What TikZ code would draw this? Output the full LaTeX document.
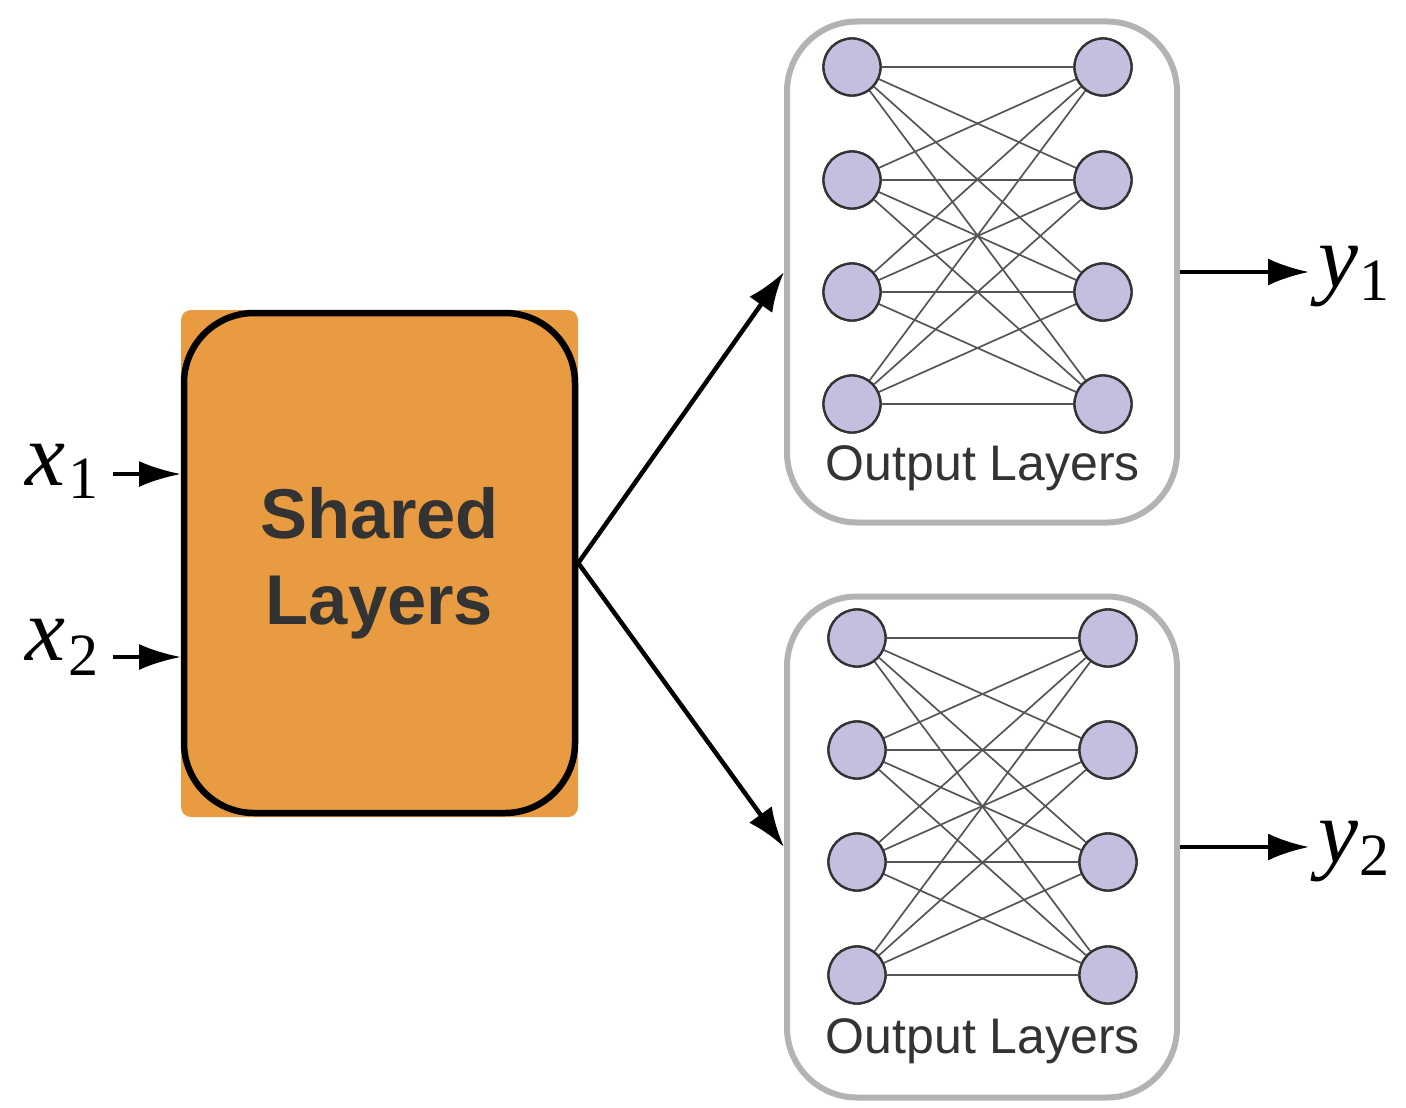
\documentclass[tikz,border=0pt]{standalone}
\usepackage{fontspec}
\setmainfont{Liberation Serif}
\setsansfont{Liberation Sans}
\usetikzlibrary{arrows.meta, positioning}
\definecolor{sharedorange}{HTML}{E99B41}
\definecolor{neuronfill}{HTML}{C4BFDF}
\definecolor{boxgray}{HTML}{B3B3B3}
\definecolor{textgray}{HTML}{333333}
\definecolor{wiregray}{HTML}{555555}

\begin{document}
\begin{tikzpicture}[
    x=1pt, y=-1pt,
    sharedbg/.style={fill=sharedorange, rounded corners=10pt, minimum width=397pt, minimum height=507pt, inner sep=0pt},
    sharedbox/.style={draw=black, line width=6.5pt, rounded corners=70pt, minimum width=391pt, minimum height=500pt, align=center, text=textgray, font=\sffamily\bfseries\fontsize{70.5}{86}\selectfont},
    outbox/.style={draw=boxgray, line width=6pt, rounded corners=70pt, minimum width=390pt, minimum height=501pt, fill=white},
    outlabel/.style={anchor=base, text=textgray, font=\sffamily\fontsize{50}{50}\selectfont, inner sep=0pt},
    neuron/.style={circle, draw=textgray, line width=2.3pt, fill=neuronfill, minimum size=57pt, inner sep=0pt},
    synapse/.style={draw=wiregray, line width=1.7pt},
    varlabel/.style={anchor=base west, inner sep=0pt, outer sep=0pt},
    inarrow/.style={-{Latex[length=42pt, width=26pt]}, line width=4pt},
    mainarrow/.style={-{Latex[length=40pt, width=28pt]}, line width=4.5pt},
    outarrow/.style={-{Latex[length=41pt, width=27pt]}, line width=4pt}
]
\useasboundingbox (0,0) rectangle (1406,1108);

% shared part
\node[sharedbg] (sharedback) at (379.5,563.5) {};
\node[sharedbox] (shared) at (379.5,563) {Shared\\Layers};

% inputs
\node[varlabel] (x1) at (25,485) {\fontsize{90}{90}\selectfont\itshape x\hspace{4pt}\raisebox{-13pt}{\fontsize{60}{60}\selectfont\upshape 1}};
\node[varlabel] (x2) at (25,660) {\fontsize{90}{90}\selectfont\itshape x\hspace{4pt}\raisebox{-15pt}{\fontsize{60}{60}\selectfont\upshape 2}};
\coordinate (in1) at (181,474);
\coordinate (in2) at (181,657);
\draw[inarrow, shorten <=14pt] (x1.east |- in1) -- (in1);
\draw[inarrow, shorten <=14pt] (x2.east |- in2) -- (in2);

% output heads
\node[outbox] (out1) at (982,272) {};
\node[outbox] (out2) at (982,847) {};
\node[outlabel] (lbl1) at (983,480) {Output Layers};
\node[outlabel] (lbl2) at (983,1053) {Output Layers};

% top network
\foreach \i/\y in {1/67,2/180,3/292,4/404} {
  \node[neuron] (a\i) at (852,\y) {};
  \node[neuron] (b\i) at (1103,\y) {};
}
\foreach \i in {1,...,4}
  \foreach \j in {1,...,4}
    \draw[synapse] (a\i) -- (b\j);

% bottom network
\foreach \i/\y in {1/638,2/750,3/862,4/975} {
  \node[neuron] (c\i) at (857,\y) {};
  \node[neuron] (d\i) at (1108,\y) {};
}
\foreach \i in {1,...,4}
  \foreach \j in {1,...,4}
    \draw[synapse] (c\i) -- (d\j);

% redraw neurons on top of wires
\foreach \i/\y in {1/67,2/180,3/292,4/404} {
  \node[neuron] at (852,\y) {};
  \node[neuron] at (1103,\y) {};
}
\foreach \i/\y in {1/638,2/750,3/862,4/975} {
  \node[neuron] at (857,\y) {};
  \node[neuron] at (1108,\y) {};
}

% branches
\draw[mainarrow] (shared.east) -- (out1.west);
\draw[mainarrow] (shared.east) -- (out2.west);

% outputs
\node[varlabel] (y1) at (1318,287) {\fontsize{90}{90}\selectfont\itshape y\hspace{2pt}\raisebox{-13pt}{\fontsize{60}{60}\selectfont\upshape 1}};
\node[varlabel] (y2) at (1318,862) {\fontsize{90}{90}\selectfont\itshape y\hspace{2pt}\raisebox{-13pt}{\fontsize{60}{60}\selectfont\upshape 2}};
\draw[outarrow, shorten >=9pt] (out1.east) -- (out1.east -| y1.west);
\draw[outarrow, shorten >=9pt] (out2.east) -- (out2.east -| y2.west);
\end{tikzpicture}
\end{document}
